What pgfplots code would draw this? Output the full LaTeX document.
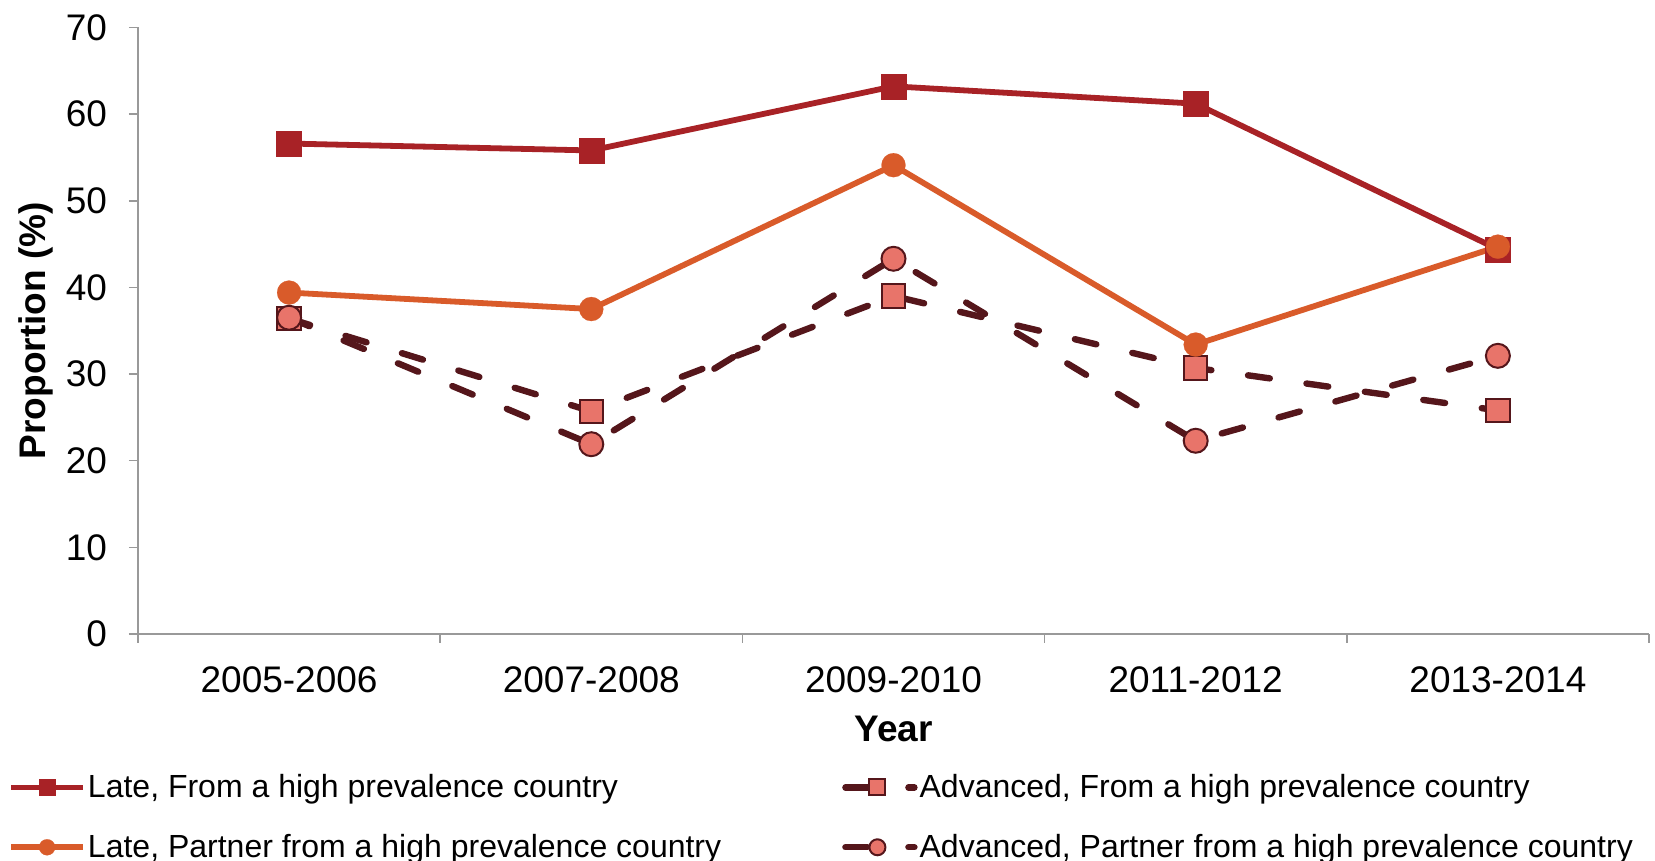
\documentclass[border=0pt]{standalone}
\usepackage{fontspec}
\setmainfont{Liberation Sans}
\usepackage{pgfplots}
\pgfplotsset{compat=1.18}

\definecolor{lateFrom}{HTML}{A82226}
\definecolor{latePartner}{HTML}{D95B2A}
\definecolor{advLine}{HTML}{55161B}
\definecolor{advFill}{HTML}{E8746A}

% legend symbols: solid line with centred mark, or short bar + mark + dash
\pgfplotsset{
  solidlegend/.style={legend image code/.code={%
    \draw[##1, mark size=4pt, mark repeat=2, mark phase=2]
      plot coordinates {(0pt,0pt) (18pt,0pt) (36pt,0pt)};}},
  dashlegend/.style={legend image code/.code={%
    \draw[##1, solid, mark=none] (0pt,0pt) -- (11pt,0pt);
    \draw[##1, solid, mark=none] (31.5pt,0pt) -- (34.5pt,0pt);
    \draw[##1, mark size=4pt] plot coordinates {(16pt,0pt)};}},
}

\begin{document}
\begin{tikzpicture}
\begin{axis}[
  at={(0,0)}, anchor=south west,
  width=755.5pt, height=303.3pt, scale only axis,
  xmin=-0.5, xmax=4.5, ymin=0, ymax=70,
  clip=false,
  axis lines=left,
  axis line style={-, draw=gray!80, line width=0.8pt},
  xtick={0,1,2,3,4},
  xticklabels={2005-2006,2007-2008,2009-2010,2011-2012,2013-2014},
  minor xtick={-0.5,0.5,1.5,2.5,3.5,4.5},
  every major x tick/.append style={draw=none},
  ytick={0,10,...,70},
  tick align=outside,
  major tick length=4.5pt, minor tick length=4.5pt,
  tick style={gray!80, line width=0.8pt},
  /pgf/number format/assume math mode=true,
  tick label style={font=\fontsize{18.5}{21}\selectfont},
  xticklabel style={yshift=-8.5pt},
  yticklabel style={xshift=-7.5pt},
  xlabel={Year}, ylabel={Proportion (\%)},
  every axis x label/.style={at={(axis description cs:0.5,0)}, anchor=center,
    yshift=-47.5pt, font=\bfseries\fontsize{18.5}{21}\selectfont},
  every axis y label/.style={at={(axis description cs:0,0.5)}, anchor=center,
    xshift=-51pt, rotate=90, font=\bfseries\fontsize{18.5}{21}\selectfont},
  legend columns=2,
  legend cell align=left,
  legend style={draw=none, fill=none, inner sep=0pt,
    at={(0,0)}, anchor=north west, xshift=-65.1pt, yshift=-70pt,
    font=\fontsize{16}{19}\selectfont,
    nodes={inner xsep=1pt, inner ysep=0pt},
    row sep=16.8pt,
    /tikz/every even column/.append style={column sep=59.5pt}},
]

% Late diagnosis, born in a high prevalence country
\addplot[lateFrom, line width=2.9pt, mark=square*, mark size=6.25pt,
  mark options={solid, fill=lateFrom, draw=lateFrom, line width=0.1pt},
  solidlegend]
  coordinates {(0,56.6) (1,55.8) (2,63.2) (3,61.2) (4,44.4)};
\addlegendentry{Late, From a high prevalence country}

% Advanced diagnosis, born in a high prevalence country
\addplot[advLine, line width=3.2pt, line cap=round, dash pattern=on 11pt off 18.5pt,
  mark=square*, mark size=5.8pt,
  mark options={solid, fill=advFill, draw=advLine, line width=1pt},
  dashlegend]
  coordinates {(0,36.4) (1,25.7) (2,39.0) (3,30.7) (4,25.8)};
\addlegendentry{Advanced, From a high prevalence country}

% Late diagnosis, partner from a high prevalence country
\addplot[latePartner, line width=2.9pt, mark=*, mark size=6pt,
  mark options={solid, fill=latePartner, draw=latePartner, line width=0.1pt},
  solidlegend]
  coordinates {(0,39.4) (1,37.5) (2,54.1) (3,33.4) (4,44.7)};
\addlegendentry{Late, Partner from a high prevalence country}

% Advanced diagnosis, partner from a high prevalence country
\addplot[advLine, line width=3.2pt, line cap=round, dash pattern=on 11pt off 18.5pt,
  mark=*, mark size=6pt,
  mark options={solid, fill=advFill, draw=advLine, line width=1pt},
  dashlegend]
  coordinates {(0,36.5) (1,21.9) (2,43.3) (3,22.3) (4,32.1)};
\addlegendentry{Advanced, Partner from a high prevalence country}

\end{axis}
\pgfresetboundingbox
\useasboundingbox (-69pt,-113.5pt) rectangle (758.5pt,317pt);
\end{tikzpicture}
\end{document}
